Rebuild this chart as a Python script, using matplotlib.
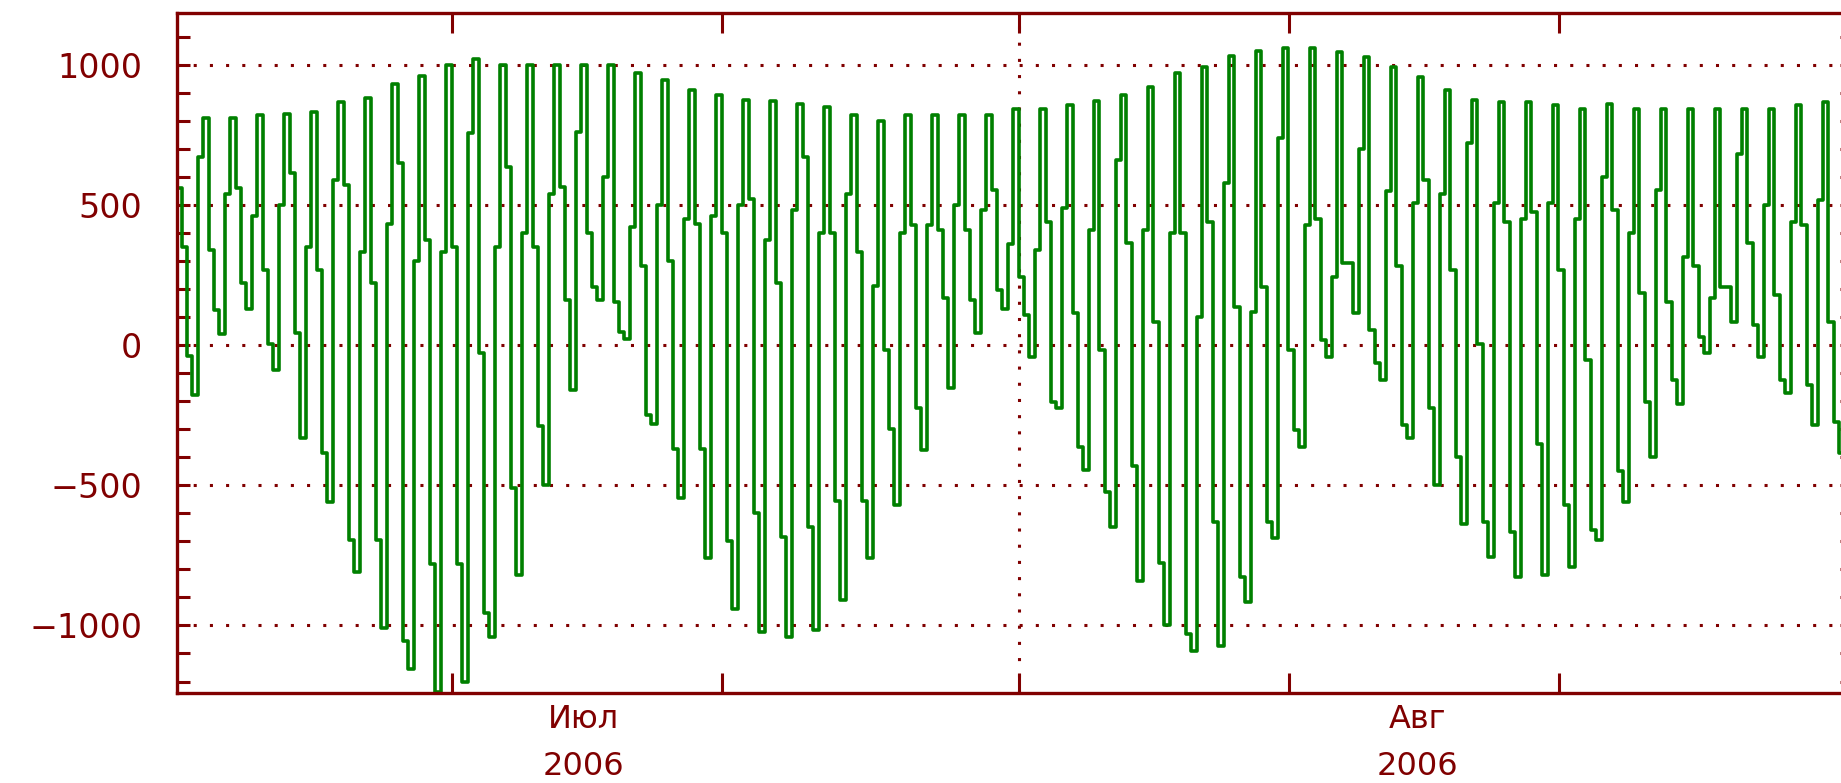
import numpy as np
import pandas as pd
import matplotlib
matplotlib.use("Agg")
import matplotlib.pyplot as plt
import matplotlib.dates as mdates
from matplotlib.ticker import FixedLocator, FixedFormatter, MultipleLocator

# values, one entry per day (Jul 1 .. Aug 31 2006):
# drop after the evening peak, step just before the low, daily low,
# morning rise, evening peak
fall = [350, 340, 560, 267, 612, 267, 570, 220, 650, 375,
        350, -30, 635, 350, 564, 400, 153, 280, 300, 430,
        400, 520, 220, 670, 400, 330, -18, 428, 410, 410,
        552, 244, 440, 113, -18, 363, 82, 400, 440, 135,
        207, -18, 450, 292, 54, 280, 590, 267, 5, 440,
        475, 267, -53, 480, 185, 153, 280, 207, 363, 178,
        428, 82]
near_low = [-40, 125, 220, 5, 43, -385, -695, -695, -1057, -780,
            -780, -955, -510, -290, 160, 207, 45, -250, -370, -370,
            -700, -600, -685, -650, -555, -555, -300, -225, 168, 160,
            196, 107, -203, -365, -525, -430, -778, -1030, -630, -827,
            -630, -303, 18, 292, -65, -285, -225, -400, -630, -667,
            -352, -570, -660, -450, -203, -125, 28, 207, 71, -125,
            -142, -274]
low = [-180, 40, 130, -90, -330, -560, -810, -1010, -1155, -1237,
       -1200, -1040, -820, -500, -160, 160, 20, -280, -545, -760,
       -940, -1025, -1040, -1015, -910, -760, -570, -375, -155, 43,
       130, -42, -225, -445, -650, -840, -1000, -1090, -1075, -915,
       -690, -365, -42, 113, -125, -330, -500, -640, -755, -827,
       -820, -790, -695, -560, -400, -210, -30, 82, -42, -170,
       -285, -385]
rise = [670, 540, 460, 500, 350, 590, 330, 430, 300, 330,
        755, 350, 400, 540, 760, 600, 420, 500, 450, 460,
        500, 375, 480, 400, 540, 210, 400, 428, 500, 480,
        360, 340, 488, 410, 660, 410, 400, 100, 577, 118,
        738, 428, 244, 700, 550, 505, 540, 720, 505, 450,
        505, 450, 600, 400, 552, 314, 168, 680, 500, 440,
        517, 460]
high = [810, 810, 820, 825, 830, 865, 880, 930, 960, 1000,
        1020, 1000, 1000, 1000, 1000, 1000, 970, 945, 910, 890,
        875, 870, 860, 850, 820, 800, 820, 820, 820, 820,
        840, 840, 855, 870, 890, 920, 970, 990, 1030, 1050,
        1060, 1060, 1045, 1027, 990, 955, 910, 875, 865, 865,
        855, 840, 860, 840, 840, 840, 840, 840, 840, 855,
        866, 690]
start_value = 560

first_day = pd.Timestamp("2006-07-01")
x_start = pd.Timestamp("2006-06-30 19:26")
x_end = pd.Timestamp("2006-08-31 21:20")
day_ticks = ["2006-07-11", "2006-07-21", "2006-08-01", "2006-08-11", "2006-08-21"]
month_lines = ["2006-08-01"]
month_pos = ["2006-07-15 20:20", "2006-08-15 17:45"]
month_labels = ["Июл\n2006", "Авг\n2006"]
y_major = [-1000, -500, 0, 500, 1000]
y_labels = ["\u22121000", "\u2212500", "0", "500", "1000"]

RED = "#800000"
GREEN = "#008000"

days = first_day + pd.to_timedelta(np.arange(len(high)), unit="D")
offsets = pd.to_timedelta([-0.5, 4.3, 9.1, 13.9, 18.75], unit="h")
times = [x_start] + [d + o for d in days for o in offsets]
values = [start_value] + list(np.column_stack([fall, near_low, low, rise, high]).ravel())

fig = plt.figure(figsize=(18.41, 7.83), dpi=100, facecolor="white")
ax = fig.add_axes([177 / 1841, 90 / 783, 1676 / 1841, 680 / 783])

dots = (0, (1, 4.3))
for v in y_major:
    ax.axhline(v, color=RED, lw=2.2, ls=dots, zorder=1)
for m in month_lines:
    ax.axvline(pd.Timestamp(m), color=RED, lw=2.2, ls=dots, zorder=1)

ax.step(times, values, where="post", color=GREEN, lw=2.6, zorder=2)

ax.set_xlim(x_start, x_end)
ax.set_ylim(-1241, 1184)

for s in ax.spines.values():
    s.set_color(RED)
    s.set_linewidth(2.4)

ax.yaxis.set_major_locator(FixedLocator(y_major))
ax.yaxis.set_major_formatter(FixedFormatter(y_labels))
ax.yaxis.set_minor_locator(MultipleLocator(100))
ax.tick_params(axis="y", which="both", direction="in", length=9.4, width=2.2,
               color=RED, left=True, right=True, labelright=False)
ax.tick_params(axis="y", which="major", labelsize=24, labelcolor=RED, pad=25)

ax.xaxis.set_major_locator(FixedLocator(mdates.date2num(pd.to_datetime(day_ticks))))
ax.xaxis.set_major_formatter(FixedFormatter([""] * len(day_ticks)))
ax.xaxis.set_minor_locator(FixedLocator(mdates.date2num(pd.to_datetime(month_pos))))
ax.xaxis.set_minor_formatter(FixedFormatter(month_labels))
ax.tick_params(axis="x", which="major", direction="in", length=14.4, width=2.2,
               color=RED, top=True, bottom=True)
ax.tick_params(axis="x", which="minor", length=0, labelsize=23, labelcolor=RED, pad=8)
for lbl in ax.get_xticklabels(minor=True):
    lbl.set_linespacing(1.65)

fig.savefig("out.png", dpi=100, facecolor="white")
